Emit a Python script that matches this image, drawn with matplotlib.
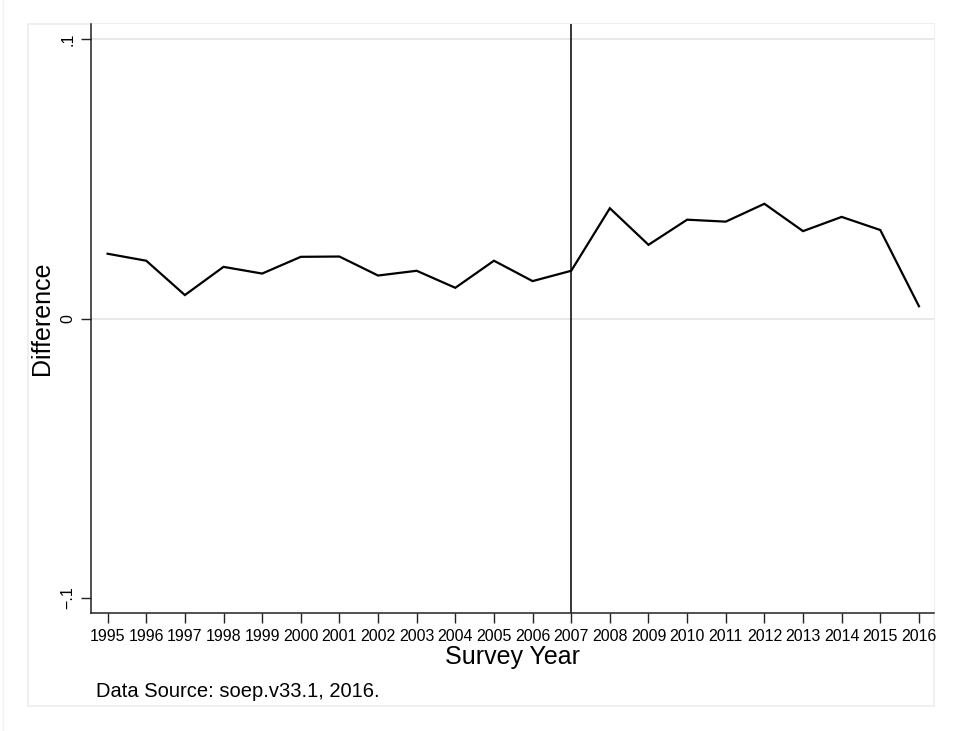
import matplotlib
matplotlib.use("Agg")
import matplotlib.pyplot as plt
from matplotlib.patches import Rectangle
from matplotlib.lines import Line2D

plt.rcParams['font.family'] = ['Liberation Sans', 'DejaVu Sans']

# Survey years and the estimated difference per year
years = [1995, 1996, 1997, 1998, 1999, 2000, 2001, 2002, 2003, 2004, 2005,
         2006, 2007, 2008, 2009, 2010, 2011, 2012, 2013, 2014, 2015, 2016]
difference = [0.0232, 0.0207, 0.0084, 0.0185, 0.0161, 0.0221, 0.0222, 0.0154,
              0.0171, 0.0110, 0.0207, 0.0134, 0.0171, 0.0395, 0.0264, 0.0354,
              0.0347, 0.0411, 0.0313, 0.0364, 0.0317, 0.0044]
reform_year = 2007
y_ticks = [-0.1, 0.0, 0.1]
y_tick_labels = ['\u2212.1', '0', '.1']
grid_levels = [0.0, 0.1]

W, H = 958, 731
fig = plt.figure(figsize=(W / 100, H / 100), dpi=100)
fig.patch.set_facecolor('white')

# graph region border and faint outer frame
fig.add_artist(Rectangle((28 / W, 1 - 706 / H), (934 - 28) / W, (706 - 24) / H,
                         transform=fig.transFigure, fill=False,
                         edgecolor='#ececec', linewidth=1.2, zorder=0))
fig.add_artist(Line2D([3 / W, 3 / W], [0, 1], transform=fig.transFigure,
                      color='#f0f0f0', linewidth=1.0, zorder=0))

left, right, top, bottom = 91, 934, 24, 613.3
ax = fig.add_axes([left / W, 1 - bottom / H, (right - left) / W, (bottom - top) / H])

for g in grid_levels:
    ax.axhline(g, color='#e6e6e6', linewidth=1.3, zorder=1)

ax.axvline(reform_year, color='#262626', linewidth=1.3, zorder=2)
ax.plot(years, difference, color='black', linewidth=1.6, zorder=3,
        solid_joinstyle='miter')

ax.set_xlim(1994.57, 2016.39)
ax.set_ylim(-0.1056, 0.1055)

ax.set_xticks(years)
ax.set_xticklabels([str(y) for y in years], fontsize=11.5)
ax.set_yticks(y_ticks)
ax.set_yticklabels(y_tick_labels, fontsize=11.5, rotation=90, va='center')

ax.tick_params(axis='both', direction='out', length=7.5, width=1.0, color='#222222')
ax.tick_params(axis='x', pad=3.5)
ax.tick_params(axis='y', pad=4)

for side in ['top', 'right']:
    ax.spines[side].set_visible(False)
for side in ['left', 'bottom']:
    ax.spines[side].set_linewidth(1.1)
    ax.spines[side].set_color('#222222')

ax.set_xlabel('Survey Year', fontsize=18)
ax.xaxis.set_label_coords(0.5, -0.074)
ax.xaxis.label.set_va('center')
ax.set_ylabel('Difference', fontsize=18)
ax.yaxis.set_label_coords(-0.058, 0.5)
ax.yaxis.label.set_va('center')

fig.text(96 / W, 1 - 697 / H, 'Data Source: soep.v33.1, 2016.', fontsize=14.5,
         va='baseline', ha='left')

fig.savefig('out.png', dpi=100, facecolor='white')
